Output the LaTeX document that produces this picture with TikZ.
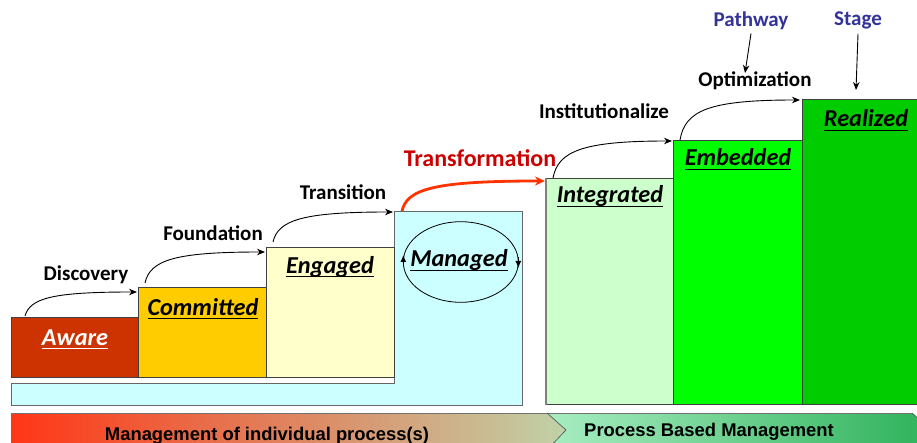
\documentclass[tikz,border=0pt]{standalone}
\usepackage{fontspec}
\setmainfont{Carlito}
\newfontfamily\barfont{Liberation Sans}
\usetikzlibrary{arrows.meta,calc,shapes.geometric}
\newcommand\ulbox[1]{\setbox0\hbox{#1}\rlap{\rule[-4.3pt]{\wd0}{1.7pt}}\box0}
\definecolor{cAware}{HTML}{CC3300}
\definecolor{cCommit}{HTML}{FFCC00}
\definecolor{cEngage}{HTML}{FFFFCC}
\definecolor{cManage}{HTML}{CCFFFF}
\definecolor{cInteg}{HTML}{CCFFCC}
\definecolor{cEmbed}{HTML}{00FF00}
\definecolor{cReal}{HTML}{00CC00}
\definecolor{cTrans}{HTML}{CC0000}
\definecolor{cTransArr}{HTML}{FF3300}
\definecolor{cBlue}{HTML}{333399}
\definecolor{barL}{HTML}{FF3616}
\definecolor{barM}{HTML}{F07A58}
\definecolor{barR}{HTML}{C0D2A8}
\definecolor{barG}{HTML}{A8EDC2}
\definecolor{barH}{HTML}{2EB25A}
\begin{document}
\begin{tikzpicture}[x=1pt,y=-1pt,
  stepbox/.style={draw=black!75, line width=0.8pt, inner sep=0pt, anchor=north west},
  lbl/.style={font=\fontsize{21}{22}\selectfont\bfseries, anchor=base, inner sep=0pt},
  boxlbl/.style={font=\fontsize{24.3}{25}\selectfont\bfseries\itshape, anchor=base, inner sep=0pt},
  bartxt/.style={font=\barfont\fontsize{18.4}{19}\selectfont\bfseries, anchor=base, inner sep=0pt},
  arr/.style={-{Stealth[length=8pt,width=6.5pt]}, line width=0.9pt},
  redarr/.style={-{Stealth[length=10pt,width=9pt]}, line width=2.8pt, draw=cTransArr},
  cyc/.style={-{Latex[length=7pt,width=6pt]}, line width=0.8pt}
]
\useasboundingbox (0,0) rectangle (917,443);
\clip (0,0) rectangle (917,443);

% bottom bar
\shade[left color=barL, middle color=barM, right color=barR]
  (11,413) -- (547,413) -- (566,430) -- (547,450) -- (11,450) -- cycle;
\shade[left color=barG, right color=barH]
  (547,413) -- (912,413) -- (931,430) -- (912,450) -- (547,450) -- (566,430) -- cycle;
\draw[black!55, line width=0.8pt] (11,413) -- (912,413);
\draw[black!70, line width=0.6pt] (547,413) -- (566,430) -- (547,450);
\draw[black!70, line width=0.6pt] (912,413) -- (931,430);
\node[bartxt] (mind) at (267,440) {Management of individual process(s)};
\node[bartxt] (pbm) at (709,436) {Process Based Management};

% left L-shaped cyan base
\draw[fill=cManage, draw=black!60, line width=0.8pt]
  (11,383) -- (394,383) -- (394,211) -- (522,211) -- (522,405) -- (11,405) -- cycle;

% steps
\node[stepbox, fill=cAware, minimum width=127pt, minimum height=60pt] (aware) at (11,317) {};
\node[stepbox, fill=cCommit, minimum width=128pt, minimum height=90pt] (committed) at (138,287) {};
\node[stepbox, fill=cEngage, minimum width=128pt, minimum height=130pt] (engaged) at (266,247) {};
\node[stepbox, fill=cInteg, minimum width=127pt, minimum height=226pt] (integrated) at (546,178) {};
\node[stepbox, fill=cEmbed, minimum width=129pt, minimum height=264pt] (embedded) at (673,140) {};
\node[stepbox, fill=cReal, minimum width=130pt, minimum height=305pt] (realized) at (802,99) {};
\draw[black!50, line width=2pt] (546,178) -- (546,405);

% box labels
\node[boxlbl, text=white] (lAware) at (75,345) {\ulbox{Aware}};
\node[boxlbl] (lCommit) at (203,315) {\ulbox{Committed}};
\node[boxlbl] (lEngage) at (330,273) {\ulbox{Engaged}};
\node[boxlbl] (lManage) at (459,267) {\ulbox{Managed}};
\node[boxlbl] (lInteg) at (610,203) {\ulbox{Integrated}};
\node[boxlbl] (lEmbed) at (738,166) {\ulbox{Embedded}};
\node[boxlbl] (lReal) at (866,127) {\ulbox{Realized}};

% managed cycle
\node[draw, line width=0.8pt, ellipse, minimum width=115pt, minimum height=80.6pt, inner sep=0pt] (cycle) at (460.8,262) {};
\draw[cyc] (403.3,266) -- (403.3,255);
\draw[cyc] (518.3,257) -- (518.3,268);

% pathway labels
\node[lbl] (tDisc) at (86,280) {Discovery};
\node[lbl] (tFound) at (213,241) {Foundation};
\node[lbl] (tTrans) at (343,200) {Transition};
\node[lbl, font=\fontsize{24}{25}\selectfont\bfseries, text=cTrans] (tTransf) at (480,167) {Transformation};
\node[lbl] (tInst) at (604,119) {Institutionalize};
\node[lbl] (tOpt) at (755,87) {Optimization};
\node[lbl, text=cBlue] (tPath) at (751,27) {Pathway};
\node[lbl, text=cBlue] (tStage) at (858,26) {Stage};

% arrow coordinates
\coordinate (d0) at (25,316);  \coordinate (d1) at (137,292);
\coordinate (f0) at (145,283); \coordinate (f1) at (265,252);
\coordinate (r0) at (273,242); \coordinate (r1) at (393,212);
\coordinate (t0) at (402,211); \coordinate (t1) at (545,181);
\coordinate (i0) at (553,178); \coordinate (i1) at (672,141);
\coordinate (o0) at (680,140); \coordinate (o1) at (800,100);
\coordinate (p1) at (745,73);
\coordinate (s1) at (856,90);

\draw[arr] (d0) .. controls ($(d0)+(5,-18)$) and ($(d0)+(28,-24)$) .. (d1);
\draw[arr] (f0) .. controls ($(f0)+(5,-23)$) and ($(f0)+(30,-31)$) .. (f1);
\draw[arr] (r0) .. controls ($(r0)+(5,-22)$) and ($(r0)+(30,-30)$) .. (r1);
\draw[redarr] (t0) .. controls ($(t0)+(5,-22)$) and ($(t0)+(32,-30)$) .. (t1);
\draw[arr] (i0) .. controls ($(i0)+(5,-27)$) and ($(i0)+(30,-37)$) .. (i1);
\draw[arr] (o0) .. controls ($(o0)+(5,-30)$) and ($(o0)+(30,-40)$) .. (o1);
\draw[arr] (tPath.south) ++(0,3) -- (p1);
\draw[arr] (tStage.south) ++(0,4) -- (s1);
\end{tikzpicture}
\end{document}
